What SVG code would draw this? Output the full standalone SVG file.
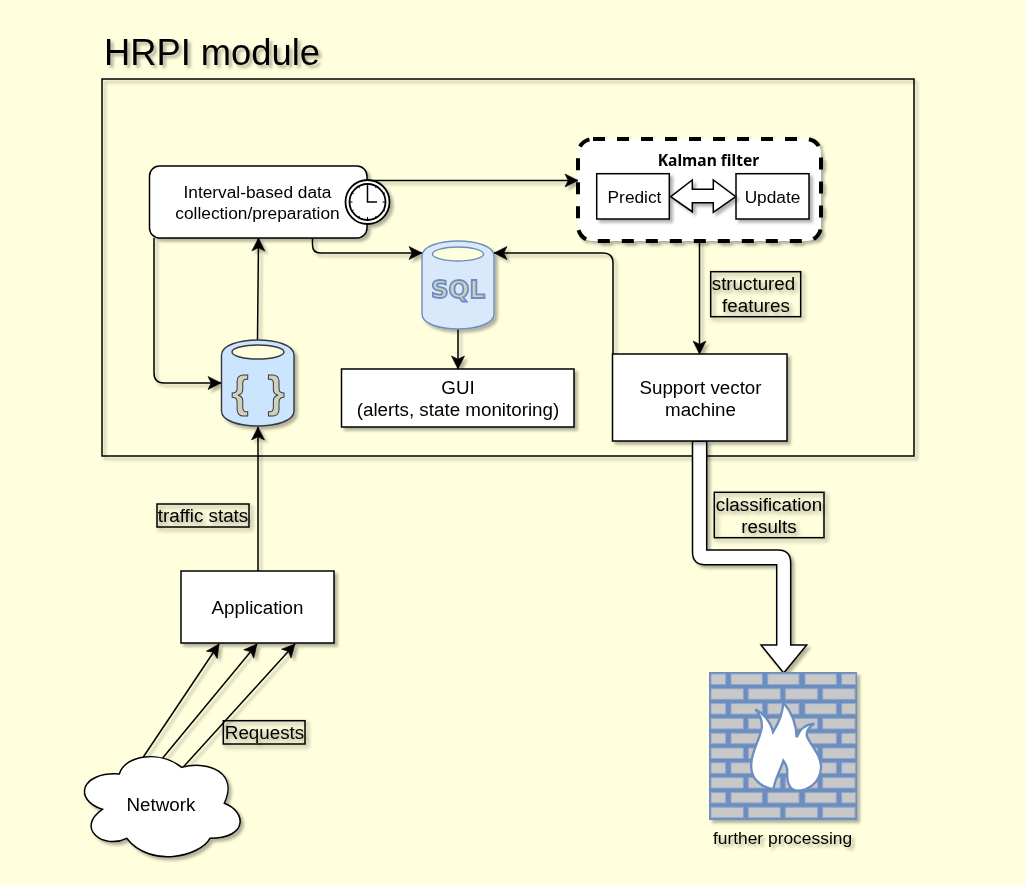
<svg xmlns="http://www.w3.org/2000/svg" width="1026" height="885" viewBox="0 0 1026 885">
<style>
text{font-family:"Liberation Sans",Arial,sans-serif;font-size:18.8px;fill:#000;text-anchor:middle}
.t{font-size:17.3px}
.b{fill:#fff;stroke:#000;stroke-width:1.5}
.n{fill:none;stroke:#000;stroke-width:1.5}
.c{fill:none;stroke:#000;stroke-width:1.5;marker-end:url(#a)}
.s{filter:url(#sh)}
.l{filter:url(#sl)}
.br{fill:#c8c8c8;stroke:#8fa6cc;stroke-width:1}
</style>
<defs>
<filter id="sh" filterUnits="userSpaceOnUse" x="0" y="0" width="1026" height="885"><feDropShadow dx="3" dy="3" stdDeviation="1.6" flood-color="#000" flood-opacity="0.3"/></filter>
<filter id="sl" filterUnits="userSpaceOnUse" x="0" y="0" width="1026" height="885"><feDropShadow dx="2.5" dy="2.5" stdDeviation="2" flood-color="#000" flood-opacity="0.45"/></filter>
<marker id="a" markerUnits="userSpaceOnUse" markerWidth="15" markerHeight="15" viewBox="0 0 15 15" refX="14" refY="7.5" orient="auto"><path d="M14 7.5L1 14L4.2 7.5L1 1Z" fill="#000" stroke="#000" stroke-width="0.6"/></marker>
</defs>
<rect width="1026" height="885" fill="#ffffdd"/>
<g id="module" class="s"><rect class="n" x="102" y="79" width="812" height="377"/><text x="212" y="65" style="font-size:36.3px">HRPI module</text></g>
<g id="connectors" class="s">
<path class="c" d="M367 180.5H578"/>
<path class="c" d="M312.5 238V245Q312.5 253 320.5 253H422"/>
<path class="c" d="M613 355V263Q613 253 603 253H494"/>
<path class="c" d="M154 238V373Q154 383 164 383H221"/>
<path class="c" d="M257.5 340L258.5 238"/>
<path class="c" d="M458 329V369"/>
<path class="c" d="M699.5 241V354"/>
<path class="c" d="M258 571V427"/>
<path class="c" d="M143.3 757L219 644"/>
<path class="c" d="M162.7 758L257 644"/>
<path class="c" d="M183.3 767L295 644"/>
<path class="b" d="M692.5 441V552Q692.5 564.7 705 564.7H776.7V645H761L783.7 673L806.7 645H790.7V563Q790.7 550 778 550H706.7V441Z"/>
</g>
<g id="interval" class="s">
<rect class="b" x="149.5" y="166" width="217.5" height="72" rx="10"/>
<text class="t" x="257.5" y="198">Interval-based data</text><text class="t" x="257.5" y="219">collection/preparation</text>
<circle class="b" cx="367.5" cy="202" r="22" style="stroke-width:1.8"/>
<circle class="b" cx="367.5" cy="202" r="18" style="stroke-width:1.8"/>
<path class="n" d="M367.5 186V202H377"/>
<path class="n" style="stroke-width:1" d="M367.5 184v3M367.5 220v-3M349.5 202h3M385.5 202h-3M376.5 186.4l-1 1.7M385 192.9l-1.7 1M385 211l-1.7-1M376.5 217.6l-1-1.7M358.5 217.6l1-1.7M352 211l1.7-1M352 192.9l1.7 1M358.5 186.4l1 1.7"/>
</g>
<g id="kalman" class="s">
<rect x="578" y="139" width="243" height="102" rx="15" fill="#fff" stroke="#000" stroke-width="4" stroke-dasharray="12 12"/>
<text x="708.5" y="166" style="font-family:'Noto Sans',sans-serif;font-weight:bold;font-size:15.6px">Kalman filter</text>
</g>
<g id="predict" class="s"><rect class="b" x="596.7" y="173.7" width="72.6" height="45.3"/><text class="t" x="634.5" y="203">Predict</text></g>
<g id="update" class="s"><rect class="b" x="736" y="173.7" width="73" height="45.3"/><text class="t" x="772.5" y="203">Update</text></g>
<g id="double-arrow" class="s"><path class="b" d="M670.7 196.7L692.3 180V189.3H713.3V180L735.7 196.7L713.3 212.3V202.7H692.3V211.7Z"/></g>
<g id="sql" class="s">
<path d="M422 256C422 236 494 236 494 256V314C494 334 422 334 422 314Z" fill="#dae8fc" stroke="#6c8ebf" stroke-width="1.4"/>
<ellipse cx="458" cy="254" rx="25.5" ry="7" fill="#ffffdd" stroke="#6c8ebf" stroke-width="1.4"/>
<text x="458" y="298" style="font-family:'DejaVu Sans',sans-serif;font-weight:bold;font-size:24.5px;fill:#cfcfc0;stroke:#6c8ebf;stroke-width:1.8">SQL</text>
</g>
<g id="json" class="s">
<path d="M221.5 355C221.5 335 294 335 294 355V411C294 431 221.5 431 221.5 411Z" fill="#cce5ff" stroke="#36393d" stroke-width="1.4"/>
<ellipse cx="258" cy="352" rx="26" ry="7" fill="#ffffdd" stroke="#36393d" stroke-width="1.4"/>
<text x="240" y="407" style="font-weight:bold;font-size:44px;fill:#d0d0bc;stroke:#36393d;stroke-width:1">{</text>
<text x="276" y="407" style="font-weight:bold;font-size:44px;fill:#d0d0bc;stroke:#36393d;stroke-width:1">}</text>
</g>
<g id="gui" class="s"><rect class="b" x="341.5" y="369" width="232.5" height="58"/><text x="458" y="394">GUI</text><text x="458" y="416">(alerts, state monitoring)</text></g>
<g id="svm" class="s"><rect class="b" x="612.5" y="354" width="174.5" height="87"/><text x="700.5" y="394">Support vector</text><text x="700.5" y="416">machine</text></g>
<g id="app" class="s"><rect class="b" x="181" y="571" width="153" height="72"/><text x="257.5" y="614">Application</text></g>
<g id="network" class="s"><path class="b" transform="translate(70 630) scale(.3333)" style="stroke-width:4.5" d="M148 432C165 375 270 360 335 412C420 390 505 430 463 520C530 545 535 625 420 625C390 680 240 715 170 625C100 660 15 595 97 538C10 510 30 425 148 432Z"/><text x="161" y="811">Network</text></g>
<g id="label-structured" class="l"><rect class="n" x="710.7" y="271.7" width="90" height="45"/><text x="753.5" y="290">structured</text><text x="756" y="312">features</text></g>
<g id="label-traffic" class="l"><rect class="n" x="157" y="504" width="92" height="23"/><text x="203" y="522">traffic stats</text></g>
<g id="label-requests" class="l"><rect class="n" x="223.3" y="720.7" width="81.7" height="23.3"/><text x="264.5" y="739">Requests</text></g>
<g id="label-classification" class="l"><rect class="n" x="714.3" y="492.3" width="109.7" height="45.4"/><text x="769" y="511">classification</text><text x="769" y="533">results</text></g>
<g id="firewall" class="s">
<rect x="709" y="672" width="148" height="148" fill="#6c8ebf"/>
<g id="bricks">
<path class="br" d="M711 674h14.7v10.5h-14.7zM731 674h31.3v10.5h-31.3zM767.7 674h31.3v10.5h-31.3zM805 674h31.3v10.5h-31.3zM841.7 674h14v10.5h-14z"/>
<path class="br" d="M711 688.8h32.3v10.5h-32.3zM748.3 688.8h32v10.5h-32zM785.3 688.8h32.4v10.5h-32.4zM822.7 688.8h32.3v10.5h-32.3z"/>
<path class="br" d="M711 703.6h14.7v10.5h-14.7zM731 703.6h31.3v10.5h-31.3zM767.7 703.6h31.3v10.5h-31.3zM805 703.6h31.3v10.5h-31.3zM841.7 703.6h14v10.5h-14z"/>
<path class="br" d="M711 718.4h32.3v10.5h-32.3zM748.3 718.4h32v10.5h-32zM785.3 718.4h32.4v10.5h-32.4zM822.7 718.4h32.3v10.5h-32.3z"/>
<path class="br" d="M711 733.2h14.7v10.5h-14.7zM731 733.2h31.3v10.5h-31.3zM767.7 733.2h31.3v10.5h-31.3zM805 733.2h31.3v10.5h-31.3zM841.7 733.2h14v10.5h-14z"/>
<path class="br" d="M711 748h32.3v10.5h-32.3zM748.3 748h32v10.5h-32zM785.3 748h32.4v10.5h-32.4zM822.7 748h32.3v10.5h-32.3z"/>
<path class="br" d="M711 762.8h14.7v10.5h-14.7zM731 762.8h31.3v10.5h-31.3zM767.7 762.8h31.3v10.5h-31.3zM805 762.8h31.3v10.5h-31.3zM841.7 762.8h14v10.5h-14z"/>
<path class="br" d="M711 777.6h32.3v10.5h-32.3zM748.3 777.6h32v10.5h-32zM785.3 777.6h32.4v10.5h-32.4zM822.7 777.6h32.3v10.5h-32.3z"/>
<path class="br" d="M711 792.4h14.7v10.5h-14.7zM731 792.4h31.3v10.5h-31.3zM767.7 792.4h31.3v10.5h-31.3zM805 792.4h31.3v10.5h-31.3zM841.7 792.4h14v10.5h-14z"/>
<path class="br" d="M711 807.2h32.3v10.5h-32.3zM748.3 807.2h32v10.5h-32zM785.3 807.2h32.4v10.5h-32.4zM822.7 807.2h32.3v10.5h-32.3z"/>
</g>
<path transform="translate(680 630) scale(.3333)" fill="#fff" stroke="#6c8ebf" stroke-width="7" d="M280 478C235 470 210 440 214 400C216 360 240 330 246 290C246 265 238 250 226 238C250 250 272 275 279 306C296 280 308 250 310 218C330 240 348 270 350 322C360 295 380 283 403 281C385 292 376 305 382 322C395 350 426 380 423 415C420 458 385 482 350 482C325 480 320 450 322 425C322 410 316 400 310 392C302 420 285 445 280 478Z"/>
<text x="782.5" y="844" style="font-size:17.4px">further processing</text>
</g>
</svg>
